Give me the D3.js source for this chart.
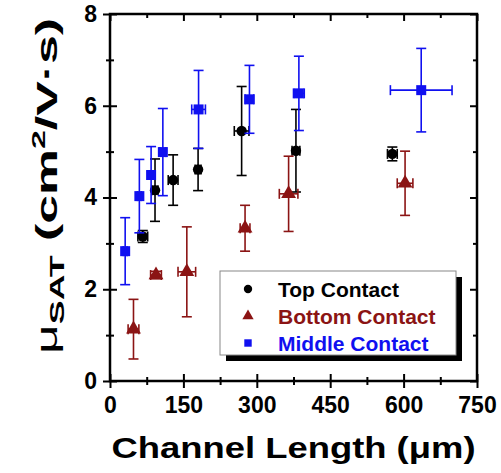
<!DOCTYPE html>
<html>
<head>
<meta charset="utf-8">
<script src="https://cdn.jsdelivr.net/npm/d3@7"></script>
<style>
  body { margin: 0; background: #fff; }
  svg { display: block; font-family: "Liberation Sans", Arial, sans-serif; }
  .axis path { display: none; }
  .axis line { stroke: #000; stroke-width: 2; }
  .axis text { font-size: 23px; font-weight: bold; fill: #000; font-family: "Liberation Sans", Arial, sans-serif; }
</style>
</head>
<body>
<script>
// mobility vs channel length, three contact geometries
const topL = [67, 92, 129, 180, 269, 380, 577];
const topMu = [3.15, 4.16, 4.38, 4.61, 5.45, 5.02, 4.95];
const topErrY = [0.13, 0.68, 0.55, 0.46, 0.97, 0.9, 0.15];
const topErrX = [10, 6, 10, 6, 15, 8, 10];

const bottomL = [48, 94, 157, 276, 365, 603];
const bottomMu = [1.13, 2.31, 2.38, 3.33, 4.08, 4.31];
const bottomErrY = [0.65, 0.08, 0.98, 0.5, 0.82, 0.7];
const bottomErrX = [11, 11, 18, 10, 19, 16];

const middleL = [31, 60, 84, 108, 181, 285, 386, 636];
const middleMu = [2.83, 4.03, 4.49, 4.99, 5.92, 6.14, 6.27, 6.34];
const middleErrY = [0.73, 0.8, 0.62, 0.95, 0.85, 0.74, 0.81, 0.91];
const middleErrX = [4, 4, 4, 6, 14, 9, 11, 63];

const xMajor = [0, 150, 300, 450, 600, 750];
const xMinor = [75, 225, 375, 525, 675];
const yMajor = [0, 2, 4, 6, 8];
const yMinor = [1, 3, 5, 7];

const width = 501;
const height = 473;
const margin = { left: 110, right: 24, top: 14, bottom: 92 };

const svg = d3.select("body").append("svg")
  .attr("width", width)
  .attr("height", height);

const x = d3.scaleLinear().domain([0, 750]).range([margin.left, width - margin.right]);
const y = d3.scaleLinear().domain([0, 8]).range([height - margin.bottom, margin.top]);

const series = [
  { name: "Top Contact", color: "#000000", shape: "circle", L: topL, mu: topMu, ex: topErrX, ey: topErrY },
  { name: "Bottom Contact", color: "#8b1414", shape: "triangle", L: bottomL, mu: bottomMu, ex: bottomErrX, ey: bottomErrY },
  { name: "Middle Contact", color: "#1010f0", shape: "square", L: middleL, mu: middleMu, ex: middleErrX, ey: middleErrY }
];

const symbolFor = (shape, size) => {
  const t = shape === "circle" ? d3.symbolCircle : shape === "triangle" ? d3.symbolTriangle : d3.symbolSquare;
  return d3.symbol().type(t).size(size)();
};

// axes: bottom + left with ticks crossing the line, top + right inward only
const x0 = margin.left, x1 = width - margin.right;
const y0 = height - margin.bottom, y1 = margin.top;

const bottomAxis = svg.append("g").attr("class", "axis")
  .attr("transform", `translate(0,${y0})`)
  .call(d3.axisBottom(x).tickValues(xMajor).tickSize(7).tickPadding(9).tickFormat(d3.format("d")));
bottomAxis.selectAll(".tick line").attr("y1", -7).attr("y2", 7);
svg.append("g").attr("class", "axis")
  .attr("transform", `translate(0,${y0})`)
  .call(d3.axisBottom(x).tickValues(xMinor).tickSize(4).tickFormat(""))
  .selectAll(".tick line").attr("y1", -4).attr("y2", 4);

const leftAxis = svg.append("g").attr("class", "axis")
  .attr("transform", `translate(${x0},0)`)
  .call(d3.axisLeft(y).tickValues(yMajor).tickSize(7).tickPadding(6).tickFormat(d3.format("d")));
leftAxis.selectAll(".tick line").attr("x1", -7).attr("x2", 7);
svg.append("g").attr("class", "axis")
  .attr("transform", `translate(${x0},0)`)
  .call(d3.axisLeft(y).tickValues(yMinor).tickSize(4).tickFormat(""))
  .selectAll(".tick line").attr("x1", -4).attr("x2", 4);

svg.append("g").attr("class", "axis")
  .attr("transform", `translate(0,${y1})`)
  .call(d3.axisBottom(x).tickValues(xMajor).tickSize(7).tickFormat(""));
svg.append("g").attr("class", "axis")
  .attr("transform", `translate(0,${y1})`)
  .call(d3.axisBottom(x).tickValues(xMinor).tickSize(4).tickFormat(""));
svg.append("g").attr("class", "axis")
  .attr("transform", `translate(${x1},0)`)
  .call(d3.axisLeft(y).tickValues(yMajor).tickSize(7).tickFormat(""));
svg.append("g").attr("class", "axis")
  .attr("transform", `translate(${x1},0)`)
  .call(d3.axisLeft(y).tickValues(yMinor).tickSize(4).tickFormat(""));

svg.append("rect")
  .attr("x", x0).attr("y", y1)
  .attr("width", x1 - x0).attr("height", y0 - y1)
  .attr("fill", "none").attr("stroke", "#000").attr("stroke-width", 2.5);

// data: error bars then markers
const cap = 5;
series.forEach((s) => {
  const pts = s.L.map((L, i) => ({ L, mu: s.mu[i], ex: s.ex[i], ey: s.ey[i] }));
  const g = svg.append("g").attr("stroke", s.color).attr("fill", s.color);
  const eb = g.selectAll("g.err").data(pts).join("g").attr("class", "err")
    .attr("stroke-width", 1.6);
  eb.append("line")
    .attr("x1", (d) => x(d.L)).attr("x2", (d) => x(d.L))
    .attr("y1", (d) => y(d.mu - d.ey)).attr("y2", (d) => y(d.mu + d.ey));
  eb.append("line")
    .attr("x1", (d) => x(d.L) - cap).attr("x2", (d) => x(d.L) + cap)
    .attr("y1", (d) => y(d.mu + d.ey)).attr("y2", (d) => y(d.mu + d.ey));
  eb.append("line")
    .attr("x1", (d) => x(d.L) - cap).attr("x2", (d) => x(d.L) + cap)
    .attr("y1", (d) => y(d.mu - d.ey)).attr("y2", (d) => y(d.mu - d.ey));
  eb.append("line")
    .attr("x1", (d) => x(d.L - d.ex)).attr("x2", (d) => x(d.L + d.ex))
    .attr("y1", (d) => y(d.mu)).attr("y2", (d) => y(d.mu));
  eb.append("line")
    .attr("x1", (d) => x(d.L - d.ex)).attr("x2", (d) => x(d.L - d.ex))
    .attr("y1", (d) => y(d.mu) - cap).attr("y2", (d) => y(d.mu) + cap);
  eb.append("line")
    .attr("x1", (d) => x(d.L + d.ex)).attr("x2", (d) => x(d.L + d.ex))
    .attr("y1", (d) => y(d.mu) - cap).attr("y2", (d) => y(d.mu) + cap);
  g.selectAll("path.pt").data(pts).join("path").attr("class", "pt")
    .attr("stroke", "none")
    .attr("transform", (d) => `translate(${x(d.L)},${y(d.mu)})`)
    .attr("d", symbolFor(s.shape, s.shape === "triangle" ? 95 : s.shape === "circle" ? 85 : 100));
});

// legend with drop shadow
const lg = { x: 220, y: 271, w: 236, h: 84 };
svg.append("rect").attr("x", lg.x + 6).attr("y", lg.y + 6).attr("width", lg.w).attr("height", lg.h).attr("fill", "#000");
svg.append("rect").attr("x", lg.x).attr("y", lg.y).attr("width", lg.w).attr("height", lg.h)
  .attr("fill", "#fff").attr("stroke", "#888").attr("stroke-width", 1);
series.forEach((s, i) => {
  const cy = lg.y + 18 + i * 27;
  svg.append("path")
    .attr("transform", `translate(${lg.x + 28},${cy})`)
    .attr("d", symbolFor(s.shape, 55))
    .attr("fill", s.color);
  svg.append("text")
    .attr("x", lg.x + 58).attr("y", cy + 8)
    .attr("font-size", 21).attr("font-weight", "bold")
    .attr("fill", s.color)
    .text(s.name);
});

// axis titles
svg.append("text")
  .attr("x", (x0 + x1) / 2).attr("y", 458)
  .attr("text-anchor", "middle")
  .attr("font-size", 29).attr("font-weight", "bold")
  .attr("textLength", 364).attr("lengthAdjust", "spacingAndGlyphs")
  .text("Channel Length (μm)");

const yt = svg.append("text")
  .attr("transform", `translate(57,186) rotate(-90)`)
  .attr("text-anchor", "middle")
  .attr("font-size", 29).attr("font-weight", "bold")
  .attr("textLength", 336).attr("lengthAdjust", "spacingAndGlyphs");
yt.append("tspan").attr("font-weight", "normal").text("μ");
yt.append("tspan").attr("font-size", 20).attr("dy", 7).text("SAT");
yt.append("tspan").attr("dy", -7).text(" (cm");
yt.append("tspan").attr("font-size", 19).attr("dy", -12).text("2");
yt.append("tspan").attr("dy", 12).text("/V·s)");
</script>
</body>
</html>
